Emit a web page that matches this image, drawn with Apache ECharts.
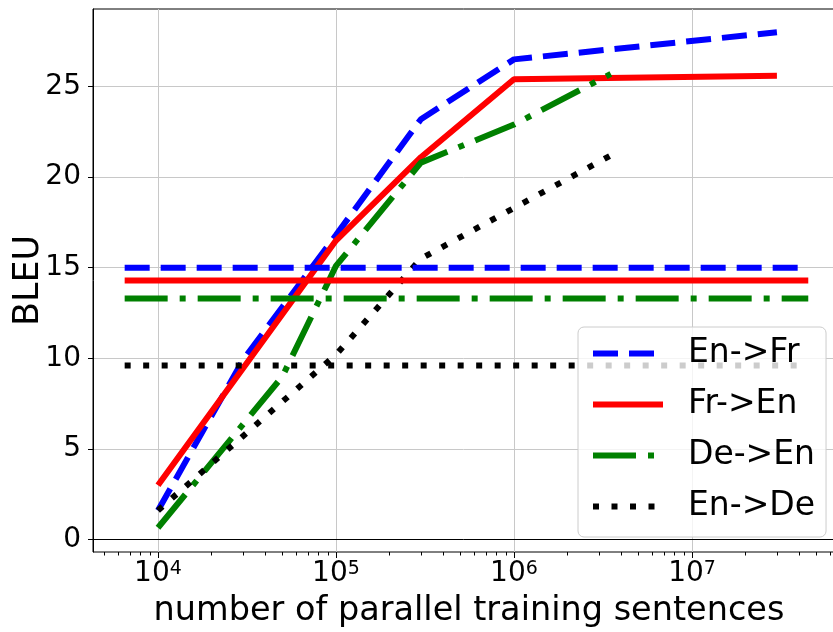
<!DOCTYPE html>
<html>
<head>
<meta charset="utf-8">
<script src="https://cdn.jsdelivr.net/npm/echarts@6/dist/echarts.min.js"></script>
<style>
html,body{margin:0;padding:0;background:#fff;}
#chart{width:833px;height:632px;}
</style>
</head>
<body>
<div id="chart"></div>
<script>
// data
var seriesNames = ['En->Fr', 'Fr->En', 'De->En', 'En->De'];

var enFrX = [1e4, 3e4, 1e5, 3e5, 1e6, 3e7];
var enFrY = [1.6, 9.9, 16.8, 23.2, 26.5, 28.0];

var frEnX = [1e4, 1e5, 3e5, 1e6, 3e7];
var frEnY = [3.0, 16.5, 21.1, 25.4, 25.6];

var deEnX = [1e4, 5e4, 1e5, 3e5, 1e6, 3.5e6];
var deEnY = [0.65, 9.0, 15.1, 20.8, 22.9, 25.7];

var enDeX = [1e4, 1e5, 3e5, 1e6, 3.5e6];
var enDeY = [1.6, 10.2, 15.5, 18.3, 21.2];

// flat reference lines, same order as seriesNames
var baselineY = [15.0, 14.3, 13.3, 9.6];
var baselineX = [6.5e3, 4.5e7];

var yTicks = [0, 5, 10, 15, 20, 25];
var xMajorExp = [4, 5, 6, 7];
var xMinorVals = [5e3, 6e3, 7e3, 8e3, 9e3,
  2e4, 3e4, 4e4, 5e4, 6e4, 7e4, 8e4, 9e4,
  2e5, 3e5, 4e5, 5e5, 6e5, 7e5, 8e5, 9e5,
  2e6, 3e6, 4e6, 5e6, 6e6, 7e6, 8e6, 9e6,
  2e7, 3e7, 4e7, 5e7, 6e7, 7e7];

var colors = ['#0000ff', '#ff0000', '#008000', '#000000'];
var dashes = [[25, 11], 'solid', [43, 12, 6, 12], [6, 12.5]];

var xLogMin = 3.635, xLogMax = 7.8596;
var yMin = -0.69, yMax = 29.28;
var font = 'DejaVu Sans';

function pairs(xs, ys) {
  return xs.map(function (x, i) { return [x, ys[i]]; });
}

var curves = [pairs(enFrX, enFrY), pairs(frEnX, frEnY), pairs(deEnX, deEnY), pairs(enDeX, enDeY)];

var series = [];
curves.forEach(function (d, i) {
  series.push({
    name: seriesNames[i], type: 'line', data: d, symbol: 'none',
    lineStyle: {color: colors[i], width: 6, type: dashes[i]},
    itemStyle: {color: colors[i]}, z: 3
  });
});
baselineY.forEach(function (v, i) {
  series.push({
    name: 'base' + i, type: 'line', symbol: 'none',
    data: baselineX.map(function (x) { return [x, v]; }),
    lineStyle: {color: colors[i], width: 6, type: dashes[i]}, z: 4
  });
});

var chart = echarts.init(document.getElementById('chart'));
chart.setOption({
  animation: false,
  backgroundColor: '#fff',
  grid: {
    left: 93, top: 9, width: 752, height: 543, outerBoundsMode: 'none', containLabel: false,
    show: true, borderColor: '#000', borderWidth: 1, backgroundColor: 'transparent'
  },
  legend: {
    data: seriesNames, orient: 'vertical', left: 578, top: 327,
    itemWidth: 70, itemHeight: 14, itemGap: 16,
    padding: [9, 11, 13, 12],
    backgroundColor: 'rgba(255,255,255,0.8)', borderColor: '#cccccc', borderWidth: 1, borderRadius: 6,
    lineStyle: {width: 6},
    itemStyle: {opacity: 0},
    textStyle: {fontFamily: font, fontSize: 33, color: '#000', padding: [0, 0, 0, 20], lineHeight: 35},
    z: 10
  },
  xAxis: [{
    type: 'log', logBase: 10,
    min: Math.pow(10, xLogMin), max: Math.pow(10, xLogMax),
    name: 'number of parallel training sentences', nameLocation: 'middle', nameGap: 42,
    nameTextStyle: {fontFamily: font, fontSize: 33.5, color: '#000'},
    axisLine: {show: true, lineStyle: {color: '#000', width: 1}},
    axisTick: {show: false},
    splitLine: {show: true, lineStyle: {color: '#c8c8c8', width: 1}},
    axisLabel: {
      margin: 8, color: '#000',
      formatter: function (v) {
        var e = Math.log10(v);
        var r = Math.round(e);
        if (Math.abs(e - r) > 1e-6 || xMajorExp.indexOf(r) < 0) return '';
        return '{m|10}{s|' + r + '}';
      },
      rich: {
        m: {fontFamily: font, fontSize: 28, color: '#000', verticalAlign: 'bottom'},
        s: {fontFamily: font, fontSize: 19, color: '#000', verticalAlign: 'top'}
      }
    }
  }, {
    type: 'value', position: 'bottom', min: xLogMin, max: xLogMax,
    axisLine: {show: false}, axisLabel: {show: false}, splitLine: {show: false},
    axisTick: {show: true, length: 6, customValues: xMajorExp, lineStyle: {color: '#000', width: 1}}
  }, {
    type: 'value', position: 'bottom', min: xLogMin, max: xLogMax,
    axisLine: {show: false}, axisLabel: {show: false}, splitLine: {show: false},
    axisTick: {show: true, length: 3.5, customValues: xMinorVals.map(function (v) { return Math.log10(v); }), lineStyle: {color: '#000', width: 1}}
  }],
  yAxis: {
    type: 'value', min: yMin, max: yMax,
    name: 'BLEU', nameLocation: 'middle', nameGap: 47, nameRotate: 90, nameMoveOverlap: false,
    nameTextStyle: {fontFamily: font, fontSize: 35, color: '#000'},
    axisLine: {show: true, lineStyle: {color: '#000', width: 1}},
    axisTick: {show: true, length: 5, customValues: yTicks, lineStyle: {color: '#000', width: 1}},
    splitLine: {show: true, lineStyle: {color: '#c8c8c8', width: 1}},
    axisLabel: {fontFamily: font, fontSize: 28, color: '#000', margin: 12, customValues: yTicks}
  },
  series: series
});
</script>
</body>
</html>
